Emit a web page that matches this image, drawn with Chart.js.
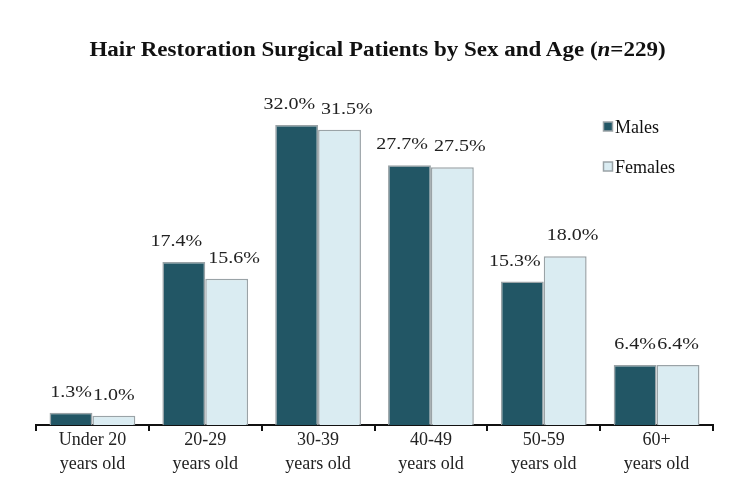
<!DOCTYPE html>
<html>
<head>
<meta charset="utf-8">
<script src="https://cdn.jsdelivr.net/npm/chart.js@4"></script>
<style>
  html, body { margin: 0; padding: 0; background: #fff; }
  #wrap { position: relative; width: 744px; height: 499px; }
  #title {
    position: absolute; left: 0; width: 755px; top: 38px; text-align: center;
  }
  #title span {
    display: inline-block; transform: scaleX(1.15);
    font-family: 'Liberation Serif', 'Times New Roman', serif;
    font-weight: bold; font-size: 20px; color: #111;
  }
</style>
</head>
<body>
<div id="wrap">
  <div id="title"><span>Hair Restoration Surgical Patients by Sex and Age (<i>n</i>=229)</span></div>
  <canvas id="chart" width="744" height="499"></canvas>
</div>
<script>
const categories = [['Under 20', 'years old'], ['20-29', 'years old'], ['30-39', 'years old'],
                    ['40-49', 'years old'], ['50-59', 'years old'], ['60+', 'years old']];
const males = [1.3, 17.4, 32.0, 27.7, 15.3, 6.4];
const females = [1.0, 15.6, 31.5, 27.5, 18.0, 6.4];
const seriesNames = ['Males', 'Females'];

const serif = "'Liberation Serif', 'Times New Roman', serif";
const stretch = 1.25;

// value labels above each bar, nudged apart when wider than the bar
const barLabels = {
    id: 'barLabels',
    afterDatasetsDraw(chart) {
        const ctx = chart.ctx;
        ctx.save();
        ctx.font = '16px ' + serif;
        ctx.fillStyle = '#222';
        ctx.textAlign = 'center';
        ctx.textBaseline = 'alphabetic';
        chart.data.datasets.forEach((ds, i) => {
            chart.getDatasetMeta(i).data.forEach((bar, j) => {
                const txt = ds.data[j].toFixed(1) + '%';
                const w = ctx.measureText(txt).width * stretch;
                let dx = w > bar.width ? (w - bar.width) / 2 + 3 : 0;
                dx = i === 0 ? -dx : dx;
                ctx.save();
                ctx.translate(bar.x + dx, bar.y - 16);
                ctx.scale(stretch, 1);
                ctx.fillText(txt, 0, 0);
                ctx.restore();
            });
        });
        ctx.restore();
    }
};

// legend drawn inside plot, top right
const sideLegend = {
    id: 'sideLegend',
    afterDraw(chart) {
        const ctx = chart.ctx;
        ctx.save();
        ctx.font = '18px ' + serif;
        ctx.textBaseline = 'middle';
        chart.data.datasets.forEach((ds, i) => {
            const y = 127 + i * 40;
            ctx.fillStyle = ds.backgroundColor;
            ctx.strokeStyle = '#9aa3a7';
            ctx.lineWidth = 1.5;
            ctx.fillRect(603.5, y - 5, 9, 9);
            ctx.strokeRect(603.5, y - 5, 9, 9);
            ctx.fillStyle = '#111';
            ctx.fillText(ds.label, 615, y + 1);
        });
        ctx.restore();
    }
};

new Chart(document.getElementById('chart'), {
    type: 'bar',
    data: {
        labels: categories,
        datasets: [
            { label: seriesNames[0], data: males, backgroundColor: '#225665', borderColor: '#9aa3a7', borderWidth: 1.5 },
            { label: seriesNames[1], data: females, backgroundColor: '#daecf2', borderColor: '#9aa3a7', borderWidth: 1.5 }
        ]
    },
    options: {
        responsive: false,
        animation: false,
        layout: { padding: { left: 36, right: 31, top: 87.5, bottom: 0 } },
        categoryPercentage: 0.76,
        barPercentage: 1.0,
        plugins: { legend: { display: false }, tooltip: { enabled: false } },
        scales: {
            y: { display: false, min: 0, max: 36 },
            x: {
                afterFit: (s) => { s.height = 74; },
                border: { display: true, color: '#111', width: 2 },
                grid: { offset: true, drawOnChartArea: false, drawTicks: true, tickLength: 6, color: '#111', lineWidth: 2 },
                ticks: { color: '#222', font: { family: serif, size: 18, lineHeight: 1.35 }, padding: -3 }
            }
        }
    },
    plugins: [barLabels, sideLegend]
});
</script>
</body>
</html>
